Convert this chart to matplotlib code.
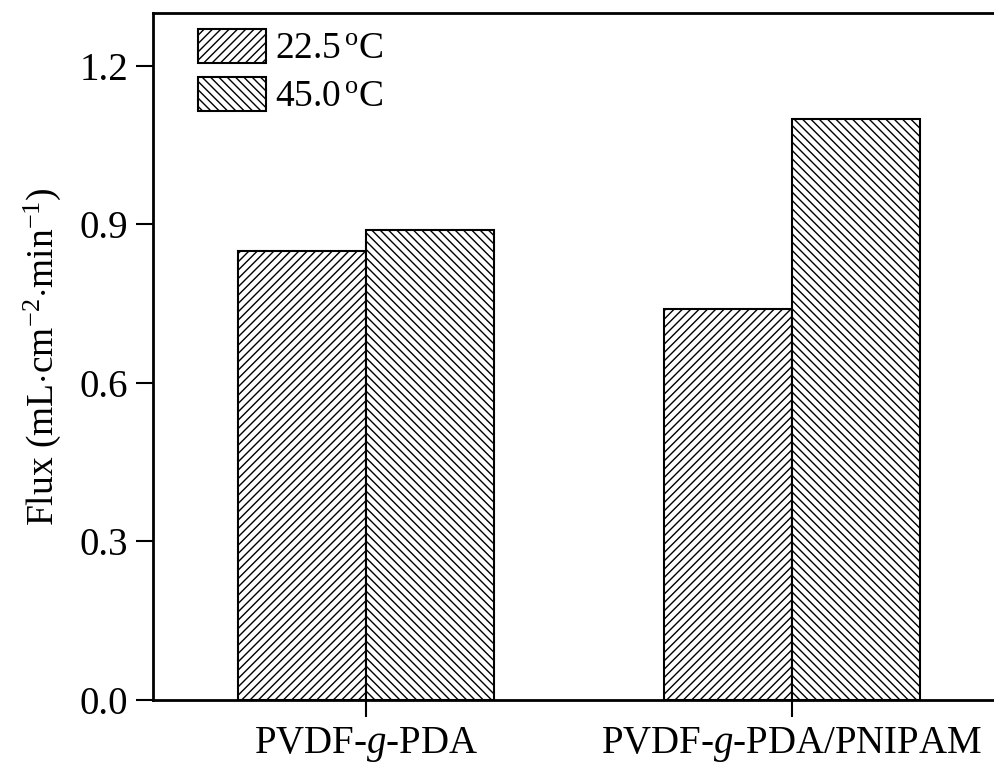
import matplotlib
matplotlib.use("Agg")
import matplotlib.pyplot as plt
import numpy as np

categories = ["PVDF-$g$-PDA", "PVDF-$g$-PDA/PNIPAM"]
series_labels = ["22.5$^{\\,\\rm o}$C", "45.0$^{\\,\\rm o}$C"]
flux_22 = [0.85, 0.74]
flux_45 = [0.89, 1.10]
yticks = [0.0, 0.3, 0.6, 0.9, 1.2]

plt.rcParams['font.family'] = ['Liberation Serif', 'DejaVu Serif']
plt.rcParams['mathtext.fontset'] = 'custom'
plt.rcParams['mathtext.rm'] = 'Liberation Serif'
plt.rcParams['mathtext.it'] = 'Liberation Serif:italic'
plt.rcParams['mathtext.bf'] = 'Liberation Serif:bold'
plt.rcParams['hatch.linewidth'] = 1.0

W, H = 995, 766
fig = plt.figure(figsize=(W/100, H/100), dpi=100)
ax = fig.add_axes([153/W, (H-700)/H, 852/W, 687/H])

x = np.arange(1, len(categories)+1)
w = 0.30
ax.bar(x - w/2, flux_22, w, color='white', edgecolor='black', hatch='////', linewidth=1.5, label=series_labels[0])
ax.bar(x + w/2, flux_45, w, color='white', edgecolor='black', hatch='\\\\\\\\', linewidth=1.5, label=series_labels[1])

ax.set_xlim(0.5, 2.5)
ax.set_ylim(0, 1.3)
ax.set_xticks(x)
ax.set_xticklabels(categories)
ax.set_yticks(yticks)
ax.set_yticklabels([f"{v:.1f}" for v in yticks])
ax.tick_params(axis='both', direction='out', length=12, width=1.5, labelsize=28, pad=6)
ax.tick_params(top=False, right=False)
for s in ['left', 'bottom', 'top']:
    ax.spines[s].set_linewidth(2)
ax.spines['right'].set_visible(False)

ax.set_ylabel("Flux (mL$\\cdot$cm$^{-2}$$\\cdot$min$^{-1}$)", fontsize=27, labelpad=12)

leg = ax.legend(loc='upper left', bbox_to_anchor=(198/W, 1-29/H), bbox_transform=fig.transFigure,
                frameon=False, fontsize=27, handlelength=1.8, handleheight=1.0,
                handletextpad=0.25, labelspacing=0.28, borderpad=0, borderaxespad=0)

fig.savefig("out.png", dpi=100)
